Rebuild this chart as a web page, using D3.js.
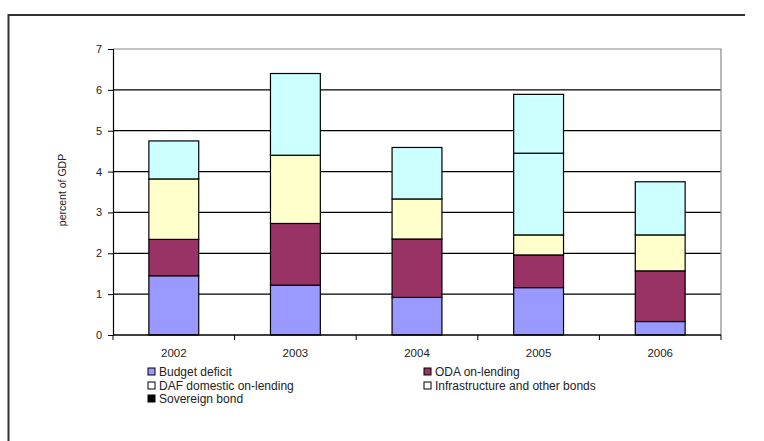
<!DOCTYPE html>
<html><head><meta charset="utf-8">
<script src="https://cdn.jsdelivr.net/npm/d3@7/dist/d3.min.js"></script>
<style>body{margin:0;background:#fff}svg{display:block}text{font-family:Arial,"Liberation Sans",sans-serif;fill:#222}</style>
</head><body><svg id="c" width="764" height="441"></svg>
<script>
const years = ["2002","2003","2004","2005","2006"];
const seriesNames = ["Budget deficit","ODA on-lending","DAF domestic on-lending","Infrastructure and other bonds","Sovereign bond"];
const budgetDeficit = [1.45, 1.22, 0.92, 1.16, 0.33];
const odaOnLending  = [0.89, 1.51, 1.43, 0.80, 1.24];
const dafOnLending  = [1.48, 1.67, 0.98, 0.49, 0.88];
const infraBonds    = [0.93, 2.00, 1.26, 2.00, 1.30];
const sovereignBond = [0, 0, 0, 1.44, 0];
const yTicks = [0,1,2,3,4,5,6,7];

const fills = ["#9999ff","#993366","#ffffcc","#ccffff","#ccffff"];
const legendFills = ["#9999ff","#993366","#ffffff","#ffffff","#000000"];
const svg = d3.select("#c");

// outer frame
svg.append("path").attr("d","M8.5,441 L8.5,15 L745,15").attr("fill","none").attr("stroke","#333").attr("stroke-width",2);

const L=113, R=721, T=49, B=335;
const x = d3.scaleBand().domain(years).range([L,R]).paddingInner(0.59).paddingOuter(0.295);
const y = d3.scaleLinear().domain([0,7]).range([B,T]);

const data = years.map((yr,i)=>({year:yr, v:[budgetDeficit[i],odaOnLending[i],dafOnLending[i],infraBonds[i],sovereignBond[i]]}));
const stack = d3.stack().keys([0,1,2,3,4]).value((d,k)=>d.v[k])(data);

// gridlines
svg.append("g").selectAll("line").data(yTicks.filter(t=>t>0&&t<7)).join("line")
  .attr("x1",L).attr("x2",R).attr("y1",d=>y(d)).attr("y2",d=>y(d)).attr("stroke","#000").attr("stroke-width",1.2);
// plot border top/right
svg.append("path").attr("d",`M${L},${T} L${R},${T} L${R},${B}`).attr("fill","none").attr("stroke","#888").attr("stroke-width",1.2);

// bars
stack.forEach((s,k)=>{
  svg.append("g").selectAll("rect").data(s.filter(d=>d[1]-d[0]>0)).join("rect")
    .attr("x",d=>x(d.data.year)).attr("width",x.bandwidth())
    .attr("y",d=>y(d[1])).attr("height",d=>y(d[0])-y(d[1]))
    .attr("fill",fills[k]).attr("stroke","#000").attr("stroke-width",1.2);
});

// axes
const ya = d3.axisLeft(y).tickValues(yTicks).tickSize(5).tickFormat(d3.format("d"));
const gy = svg.append("g").attr("transform",`translate(${L},0)`).call(ya);
gy.select(".domain").attr("stroke","#000").attr("stroke-width",1.2);
gy.selectAll("line").attr("stroke","#000");
gy.selectAll("text").attr("font-size",11).attr("dx",-3);

const xb = d3.scaleLinear().domain([0,5]).range([L,R]);
const gx = svg.append("g").attr("transform",`translate(0,${B})`);
gx.append("line").attr("x1",L).attr("x2",R).attr("stroke","#000").attr("stroke-width",1.5);
gx.selectAll(".tk").data(d3.range(0,6)).join("line").attr("x1",d=>xb(d)).attr("x2",d=>xb(d)).attr("y1",0).attr("y2",5).attr("stroke","#000");
gx.selectAll("text").data(years).join("text").attr("x",d=>x(d)+x.bandwidth()/2).attr("y",22)
  .attr("text-anchor","middle").attr("font-size",11.5).text(d=>d);

svg.append("text").attr("transform","translate(66,190) rotate(-90)").attr("text-anchor","middle").attr("font-size",10.5).text("percent of GDP");

// legend
const leg = [[148,376],[424,376],[148,390],[424,390],[148,403]];
seriesNames.forEach((n,k)=>{
  const g = svg.append("g").attr("transform",`translate(${leg[k][0]},${leg[k][1]})`);
  g.append("rect").attr("x",0).attr("y",-8).attr("width",7).attr("height",7).attr("fill",legendFills[k]).attr("stroke","#000");
  g.append("text").attr("x",11).attr("y",0).attr("font-size",12).text(n);
});
</script></body></html>
